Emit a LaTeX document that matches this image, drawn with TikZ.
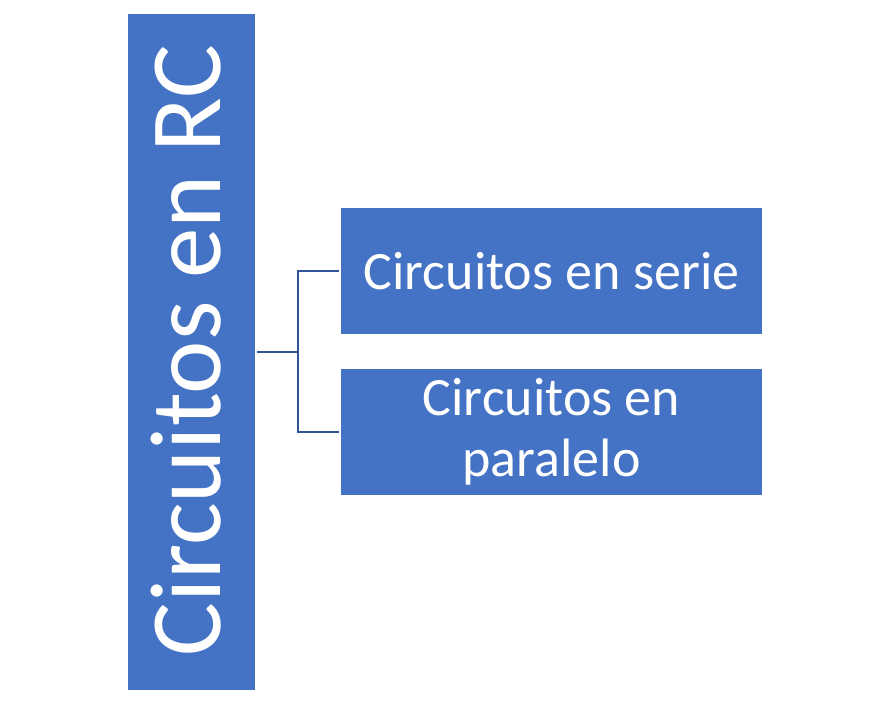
\documentclass[tikz,border=0pt]{standalone}
\usepackage{fontspec}
\setmainfont{Carlito}
\definecolor{boxblue}{HTML}{4472C4}
\definecolor{lineblue}{HTML}{2F5597}
\begin{document}
\begin{tikzpicture}[x=1pt,y=-1pt,
  box/.style={fill=boxblue, draw=none, text=white, inner sep=0pt, align=center},
  conn/.style={draw=lineblue, line width=1.6pt}]
\useasboundingbox (0,0) rectangle (875,712);
\node[box, minimum width=127pt, minimum height=676pt] (root) at (191.5,352) {};
\node[text=white, rotate=90, inner sep=0pt, font=\fontsize{101}{110}\selectfont] (roottext) at (186,350.5) {Circuitos en RC};
\node[box, minimum width=421pt, minimum height=126pt, font=\fontsize{54}{60}\selectfont] (serie) at (551.5,271) {Circuitos en serie};
\node[box, minimum width=421pt, minimum height=126pt, font=\fontsize{54}{61}\selectfont] (paralelo) at (551.5,432) {Circuitos en\\paralelo};
\coordinate (mid) at (298,352);
\draw[conn] ([xshift=2pt]root.east |- mid) -- (mid);
\draw[conn] ([xshift=-2pt]serie.west) -| (mid) |- ([xshift=-2pt]paralelo.west);
\end{tikzpicture}
\end{document}
